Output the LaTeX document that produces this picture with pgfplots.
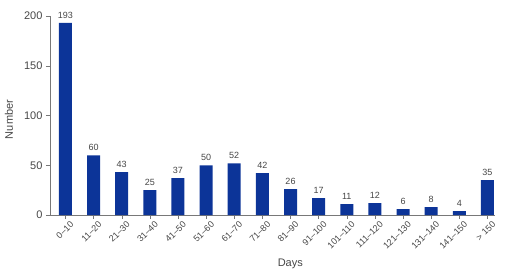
\documentclass[border=0pt]{standalone}
\usepackage{pgfplots}
\pgfplotsset{compat=1.18}
\usepackage{fontspec}
\setmainfont{Liberation Sans}
\definecolor{barblue}{RGB}{12,52,152}
\definecolor{txt}{RGB}{70,70,70}
\definecolor{axgray}{RGB}{120,120,120}
\begin{document}
\begin{tikzpicture}
\useasboundingbox (-50pt,-54pt) rectangle (478pt,215pt);
\begin{axis}[
  at={(0,0)}, anchor=south west,
  scale only axis,
  width=445pt, height=199pt,
  xmin=-0.55, xmax=15.27,
  ymin=0, ymax=200,
  axis lines=left,
  axis line style={axgray, -},
  every tick/.style={axgray, thin},
  tick align=outside,
  major tick length=4pt,
  ytick={0,50,100,150,200},
  xtick={0,...,15},
  xticklabels={0–10,11–20,21–30,31–40,41–50,51–60,61–70,71–80,81–90,91–100,101–110,111–120,121–130,131–140,141–150,> 150},
  xticklabel style={rotate=45, anchor=north east, font=\fontsize{9}{10}\selectfont, text=txt, inner sep=1pt, xshift=3pt, yshift=-3pt},
  yticklabel style={font=\fontsize{11}{12}\selectfont, text=txt},
  /pgf/number format/assume math mode=true,
  xlabel={Days},
  ylabel={Number},
  xlabel style={at={(axis description cs:0.54,0)}, anchor=center, yshift=-49pt, font=\fontsize{11}{12}\selectfont, text=txt},
  ylabel style={at={(axis description cs:-0.092,0.48)}, anchor=center, font=\fontsize{11}{12}\selectfont, text=txt},
  nodes near coords,
  every node near coord/.append style={font=\fontsize{9}{10}\selectfont, text=txt, yshift=1pt},
  clip=false,
]
\addplot[ybar, bar width=13pt, fill=barblue, draw=none] coordinates {
(0,193) (1,60) (2,43) (3,25) (4,37) (5,50) (6,52) (7,42) (8,26) (9,17) (10,11) (11,12) (12,6) (13,8) (14,4) (15,35)};
\end{axis}
\end{tikzpicture}
\end{document}
